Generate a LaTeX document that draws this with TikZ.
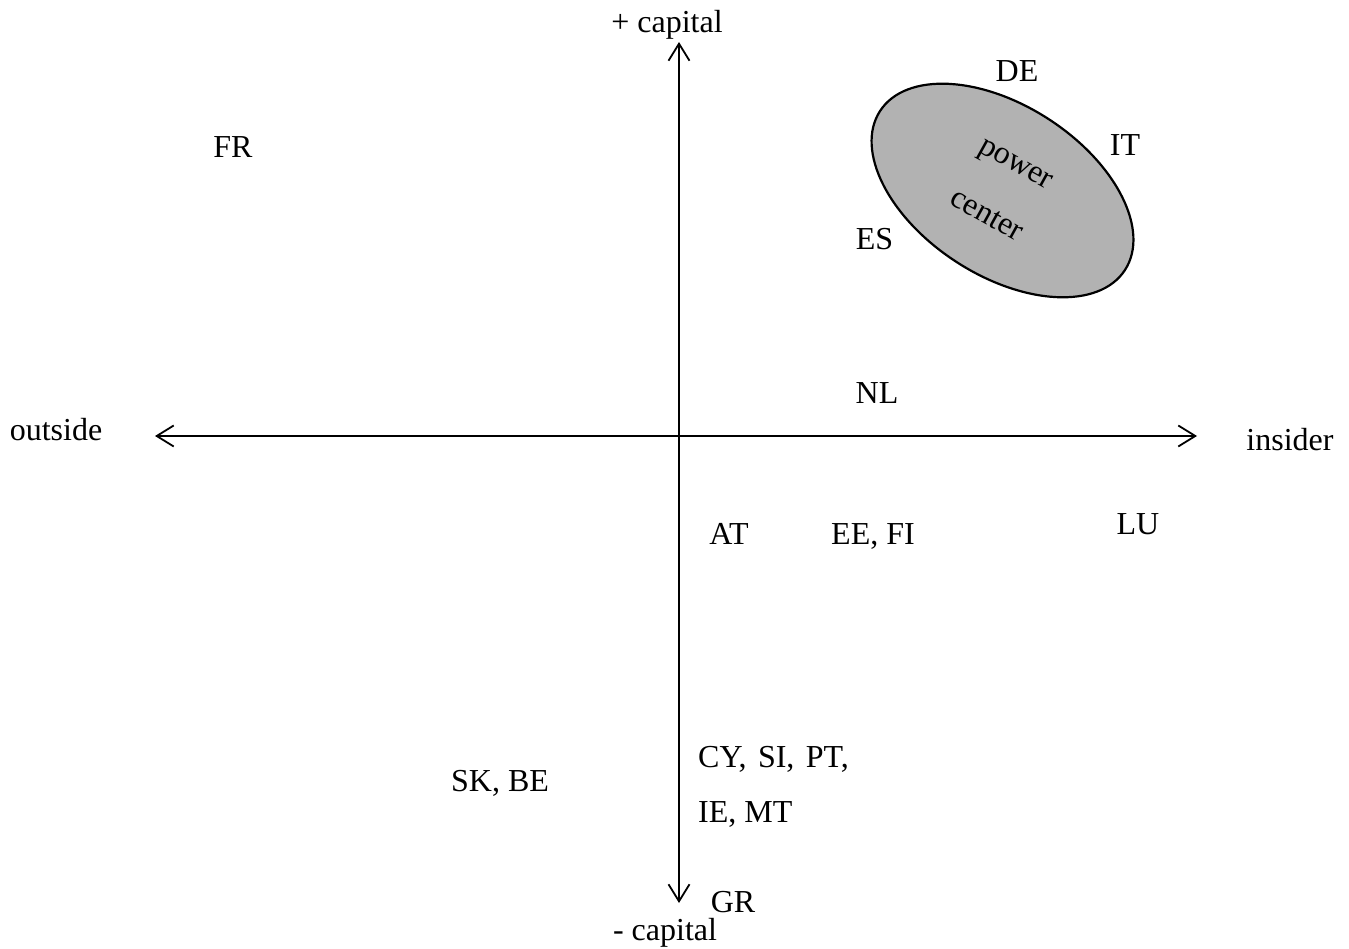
\documentclass[tikz,border=0pt]{standalone}
\usepackage{fontspec}
\setmainfont{Liberation Serif}
\usetikzlibrary{arrows.meta,shapes.geometric}
\begin{document}
\begin{tikzpicture}[x=1pt,y=1pt,
  lbl/.style={inner sep=0pt, anchor=base, font=\fontsize{32}{38}\selectfont},
  axis/.style={line width=1.8pt, {Straight Barb[length=17pt,width=21pt]}-{Straight Barb[length=17pt,width=21pt]}},
  power/.style={draw, line width=2.2pt, fill=black!30, ellipse, inner sep=0pt}
]
\useasboundingbox (0,0) rectangle (1349,948);
% axes
\coordinate (top) at (679,906);
\coordinate (bottom) at (679,45);
\coordinate (left) at (155,512);
\coordinate (right) at (1197,512);
\draw[axis] (top) -- (bottom);
\draw[axis] (left) -- (right);
% power center
\node[power, minimum width=292pt, minimum height=170pt, rotate=-33] (pc) at (1002.5,757.5) {};
\node[lbl, anchor=center, rotate=-29] (pw) at (1014,781) {power};
\node[lbl, anchor=center, rotate=-29] (ct) at (987,733) {center};
% axis labels
\node[lbl] (pluscap) at (667,915) {+ capital};
\node[lbl] (minuscap) at (665,8) {- capital};
\node[lbl] (outside) at (56,507) {outside};
\node[lbl] (insider) at (1290,497) {insider};
% countries
\node[lbl] (FR) at (233,790) {FR};
\node[lbl] (DE) at (1017,866) {DE};
\node[lbl] (IT) at (1125,792) {IT};
\node[lbl] (ES) at (874.5,698) {ES};
\node[lbl] (NL) at (877,544) {NL};
\node[lbl] (AT) at (729,403) {AT};
\node[lbl] (EEFI) at (873,403) {EE, FI};
\node[lbl] (LU) at (1138,413) {LU};
\node[lbl] (SKBE) at (500,157) {SK, BE};
\node[lbl, anchor=base west] (CYSIPT) at (698,180) {CY,\hspace{3.5pt} SI,\hspace{3.5pt} PT,};
\node[lbl, anchor=base west] (IEMT) at (698,126) {IE, MT};
\node[lbl] (GR) at (733,36) {GR};
\end{tikzpicture}
\end{document}
